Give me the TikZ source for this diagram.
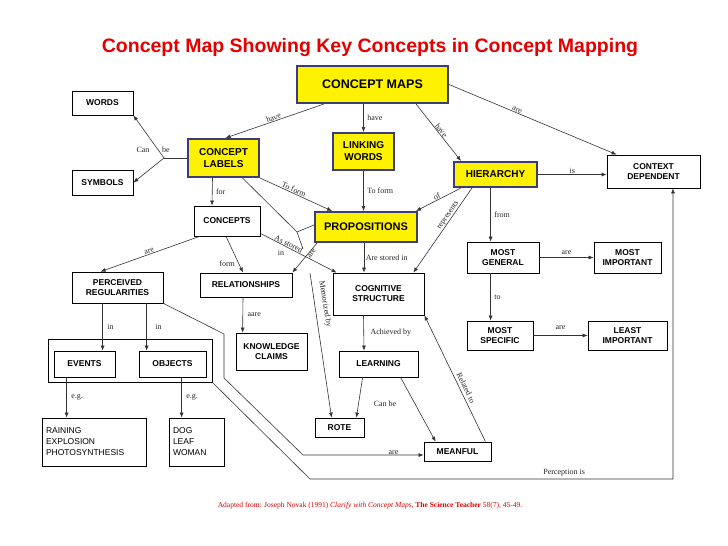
\documentclass[tikz,border=0pt]{standalone}
\usepackage{fontspec}
\setmainfont{Liberation Sans}
\newfontfamily\lblfont{Liberation Serif}
\usetikzlibrary{calc,arrows.meta}
\begin{document}
\begin{tikzpicture}[x=1pt,y=-1pt,
  box/.style={draw,line width=0.8pt,fill=white,align=center,inner sep=1pt,font=\fontsize{8.5}{10}\selectfont\bfseries},
  ybox/.style={box,fill=yellow,draw={rgb,255:red,60;green,60;blue,120},line width=2pt,font=\fontsize{10}{12}\selectfont\bfseries},
  lbox/.style={box,align=left,font=\fontsize{8.5}{11}\selectfont},
  con/.style={line width=0.6pt,draw=black!80,-{Latex[length=5pt,width=4pt]}},
  ln/.style={line width=0.6pt,draw=black!80},
  lbl/.style={font=\fontsize{8}{9}\selectfont\lblfont,inner sep=0.5pt,text=black!85}]
\useasboundingbox (0,0) rectangle (728,546);
\node[font=\fontsize{19.5}{22}\selectfont\bfseries,text=red!90!black] (title) at (370,48) {Concept Map Showing Key Concepts in Concept Mapping};
\node[ybox,minimum width=151,minimum height=37,font=\fontsize{12.5}{14}\selectfont\bfseries] (cm) at (372.5,84.5) {CONCEPT MAPS};
\node[box,minimum width=61,minimum height=24] (words) at (102.5,103) {WORDS};
\node[box,minimum width=61,minimum height=25] (symbols) at (102.5,182.5) {SYMBOLS};
\node[ybox,minimum width=71,minimum height=38] (cl) at (223.5,158) {CONCEPT\\LABELS};
\node[ybox,minimum width=61,minimum height=37] (lw) at (363.5,151.5) {LINKING\\WORDS};
\node[ybox,minimum width=83,minimum height=25] (hier) at (495.5,174.5) {HIERARCHY};
\node[box,minimum width=93,minimum height=33] (ctx) at (653.5,171.5) {CONTEXT\\DEPENDENT};
\node[box,minimum width=66,minimum height=30] (concepts) at (227,221) {CONCEPTS};
\node[ybox,minimum width=102,minimum height=30,font=\fontsize{11}{13}\selectfont\bfseries] (prop) at (366,227) {PROPOSITIONS};
\node[box,minimum width=72,minimum height=31] (mg) at (503,257.5) {MOST\\GENERAL};
\node[box,minimum width=67,minimum height=31] (mi) at (627.5,257.5) {MOST\\IMPORTANT};
\node[box,minimum width=91,minimum height=31] (perc) at (117.5,287.5) {PERCEIVED\\REGULARITIES};
\node[box,minimum width=92,minimum height=24] (rel) at (246,285) {RELATIONSHIPS};
\node[box,minimum width=91,minimum height=42] (cog) at (378.5,294) {COGNITIVE\\STRUCTURE};
\node[box,minimum width=66,minimum height=29] (ms) at (500,335.5) {MOST\\SPECIFIC};
\node[box,minimum width=79,minimum height=29] (li) at (627.5,335.5) {LEAST\\IMPORTANT};
\node[box,minimum width=71,minimum height=37] (kc) at (271.5,351.5) {KNOWLEDGE\\CLAIMS};
\node[box,minimum width=164,minimum height=43] (grp) at (130,360.5) {};
\node[box,minimum width=61,minimum height=26] (events) at (84.5,364) {EVENTS};
\node[box,minimum width=67,minimum height=26] (objects) at (172.5,364) {OBJECTS};
\node[box,minimum width=79,minimum height=26] (learning) at (378.5,364) {LEARNING};
\node[lbox,minimum width=104,minimum height=48,text width=96] (raining) at (94,442) {RAINING\\EXPLOSION\\PHOTOSYNTHESIS};
\node[lbox,minimum width=55,minimum height=48,text width=47] (dog) at (196.5,442) {DOG\\LEAF\\WOMAN};
\node[box,minimum width=49,minimum height=19] (rote) at (339.5,427.5) {ROTE};
\node[box,minimum width=67,minimum height=19] (meanful) at (457.5,451.5) {MEANFUL};
\node[font=\fontsize{7.5}{9}\selectfont\lblfont,text=red!85!black] (foot) at (370,506) {Adapted from: Joseph Novak (1991) \textit{Clarify with Concept Maps,} \textbf{The Science Teacher} 58(7), 45-49.};
% connectors
\draw[con] ($(cm.south west)+(28,0)$) -- ($(cl.north)+(2,0)$) node[lbl,midway,above,sloped] {have};
\draw[con] (cm.south -| lw) -- (lw.north) node[lbl,midway,right=3pt] {have};
\draw[con] ($(cm.south east)+(-33,0)$) -- ($(hier.north west)+(8,0)$) node[lbl,midway,above,sloped] {have};
\draw[con] (cm.east) -- ($(ctx.north west)+(10,0)$) node[lbl,pos=0.4,above,sloped] {are};
\coordinate (jcl) at (164,158);
\draw[ln] (cl.west) -- (jcl);
\draw[con] (jcl) -- (words.south east);
\draw[con] (jcl) -- (symbols.east);
\node[lbl] (canl) at (143,150) {Can};
\node[lbl] (bel) at (166,150) {be};
\draw[con] ($(cl.south)+(-11,0)$) -- ($(concepts.north)+(-15,0)$) node[lbl,midway,right=3pt] {for};
\draw[con] (cl.south east) -- ($(prop.north west)+(18,0)$) node[lbl,pos=0.45,above,sloped] {To form};
\coordinate (jp) at (297,232);
\coordinate (jp2) at (303,249);
\draw[ln] ($(cl.south)+(19,0)$) -- (jp) -- (jp2);
\draw[ln] ($(prop.west)+(0,-2)$) -- (jp);
\draw[con] (lw.south) -- (lw.south |- prop.north) node[lbl,midway,right=3pt] {To form};
\draw[con] ($(hier.south west)+(8,0)$) -- ($(prop.north east)+(-2,0)$) node[lbl,midway,above,sloped] {of};
\draw[con] ($(hier.south west)+(19,0)$) -- ($(cog.north east)+(-11,0)$) node[lbl,pos=0.35,above,sloped] {represents};
\draw[con] (hier.south -| mg.north west) ++(24,0) -- ($(mg.north west)+(24,0)$) node[lbl,midway,right=3pt] {from};
\draw[con] (hier.east) -- (hier.east -| ctx.west) node[lbl,midway,above] {is};
\draw[con] (mg.east |- mi.west) -- (mi.west) node[lbl,midway,above=2pt] {are};
\draw[con] ($(mg.south west)+(24,0)$) -- ($(ms.north west)+(24,0)$) node[lbl,midway,right=3pt] {to};
\draw[con] (ms.east) -- (li.west) node[lbl,midway,above=5pt] {are};
\draw[con] ($(concepts.south west)+(6,0)$) -- ($(perc.north west)+(29,0)$) node[lbl,midway,above,sloped] {are};
\draw[con] ($(concepts.south)+(-1,0)$) -- ($(rel.north)+(-3,0)$) node[lbl,pos=0.75,left=3pt] {form};
\draw[con] ($(prop.south west)+(3,0)$) -- ($(rel.north east)+(0,0)$) node[lbl,pos=0.3,below,sloped] {are};
\draw[con] (prop.south -| cog.north) ++(-14.5,0) -- ($(cog.north)+(-14.5,0)$) node[lbl,midway,right=1pt] {Are stored in};
\draw[con] ($(concepts.south east)+(0,-3)$) -- ($(cog.north west)+(4,0)$) node[lbl,pos=0.35,above,sloped] {As stored};
\node[lbl] (inl) at (281,253) {in};
\draw[con] ($(rel.south)+(-3,0)$) -- ($(kc.north west)+(7,0)$) node[lbl,midway,right=4pt] {aare};
\draw[con] ($(perc.south west)+(31,0)$) -- ($(events.north west)+(49,0)$) node[lbl,midway,right=4pt] {in};
\draw[con] ($(perc.south west)+(75,0)$) -- ($(objects.north west)+(8,0)$) node[lbl,midway,right=8pt] {in};
\draw[con] ($(events.south west)+(13,0)$) -- ($(raining.north west)+(25,0)$) node[lbl,midway,right=4pt] {e.g.};
\draw[con] ($(objects.south west)+(43,0)$) -- ($(dog.north west)+(13,0)$) node[lbl,midway,right=4pt] {e.g.};
\coordinate (pa) at (224,334);
\coordinate (pb) at (224,378);
\coordinate (pc) at (303,455);
\draw[con] (perc.south east) -- (pa) -- (pb) -- (pc) -- (pc -| meanful.west) node[lbl,pos=0.75,above] {are};
\coordinate (qa) at (310,479);
\coordinate (qb) at (673,479);
\draw[con] (grp.south east) -- (qa) -- (qb) node[lbl,pos=0.7,above=2pt] {Perception is} -- (qb |- ctx.south);
\coordinate (mz) at (310,273);
\draw[con] (mz) -- ($(rote.north west)+(17,0)$);
\node[lbl,rotate=-81] (memo) at (325,304) {Memorized by};
\draw[con] (cog.south -| prop.south) ++(-2.5,0) -- ($(learning.north)+(-14.5,0)$) node[lbl,midway,right=6pt] {Achieved by};
\draw[con] ($(learning.south west)+(24,0)$) -- ($(rote.north east)+(-8,0)$);
\draw[con] ($(learning.south west)+(62,0)$) -- ($(meanful.north west)+(12,0)$);
\node[lbl] (canbe) at (385,404) {Can be};
\draw[con] ($(meanful.north east)+(-6,0)$) -- (cog.south east);
\node[lbl,rotate=-64] (relto) at (466,388) {Related to};
\end{tikzpicture}
\end{document}
